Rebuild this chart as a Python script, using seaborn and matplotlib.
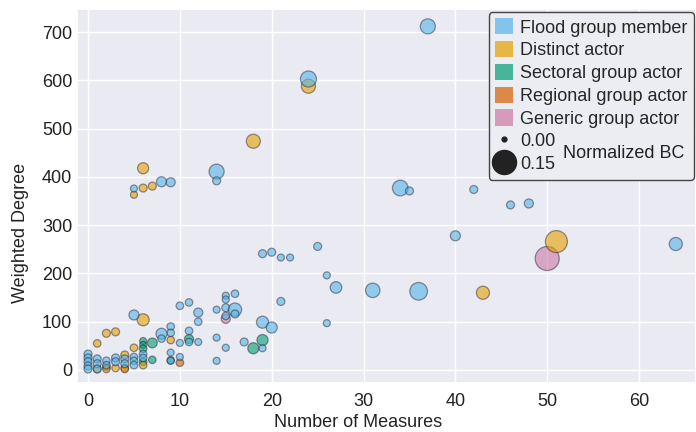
import numpy as np
import pandas as pd
import matplotlib.pyplot as plt
import seaborn as sns
from matplotlib.patches import Patch
from matplotlib.lines import Line2D

sns.set_theme(style='darkgrid')
plt.rcParams['font.family'] = ['Liberation Sans', 'DejaVu Sans']

# values
flood_x = [37, 24, 14, 14, 5, 8, 9, 34, 35, 42, 46, 48, 40, 64, 36, 31, 27, 25, 19, 20, 21, 22, 26, 26, 21,
           16, 15, 15, 15, 16, 14, 16, 15, 19, 20, 19, 17, 14, 15, 12, 12, 12, 14, 10, 11, 11, 11, 10, 9, 9,
           9, 10, 9, 8, 8, 5,
           0, 0, 0, 0, 0, 1, 1, 1, 2, 2, 3, 3, 4, 4, 5, 5, 5, 6, 6]
flood_y = [712, 603, 411, 392, 376, 390, 389, 377, 371, 374, 342, 345, 278, 261, 163, 165, 171, 256, 241, 244, 233, 233, 196, 97, 142,
           158, 154, 146, 129, 125, 125, 116, 112, 99, 88, 45, 58, 67, 46, 119, 100, 58, 19, 133, 140, 81, 58, 56, 90, 77,
           36, 27, 19, 75, 65, 114,
           33, 25, 17, 8, 2, 23, 13, 2, 19, 10, 25, 17, 23, 13, 27, 19, 10, 33, 25]
flood_bc = [0.055, 0.063, 0.055, 0.011, 0.007, 0.021, 0.016, 0.06, 0.011, 0.011, 0.011, 0.016, 0.021, 0.04, 0.078, 0.05, 0.03, 0.011, 0.011, 0.011, 0.007, 0.007, 0.007, 0.007, 0.011,
            0.009, 0.007, 0.007, 0.011, 0.042, 0.007, 0.011, 0.009, 0.033, 0.027, 0.007, 0.011, 0.007, 0.007, 0.016, 0.009, 0.007, 0.007, 0.009, 0.009, 0.009, 0.009, 0.007, 0.009, 0.009,
            0.007, 0.007, 0.007, 0.027, 0.009, 0.021,
            0.011, 0.011, 0.011, 0.011, 0.011, 0.011, 0.011, 0.011, 0.009, 0.009, 0.011, 0.011, 0.011, 0.011, 0.009, 0.009, 0.009, 0.009, 0.009]

distinct_x = [24, 18, 6, 5, 6, 7, 51, 43, 6, 2, 3, 1, 9, 1, 2, 3, 4, 4, 5, 6]
distinct_y = [588, 474, 418, 363, 377, 381, 266, 160, 104, 76, 79, 55, 62, 2, 2, 4, 2, 31, 46, 10]
distinct_bc = [0.047, 0.047, 0.027, 0.007, 0.011, 0.011, 0.124, 0.04, 0.033, 0.011, 0.011, 0.009, 0.009,
               0.009, 0.009, 0.009, 0.009, 0.011, 0.009, 0.009]

sectoral_x = [19, 18, 7, 7, 6, 6, 6, 6, 11, 9]
sectoral_y = [62, 45, 56, 21, 60, 52, 44, 17, 64, 20]
sectoral_bc = [0.027, 0.027, 0.02, 0.009, 0.007, 0.007, 0.009, 0.009, 0.016, 0.009]

regional_x = [10, 4, 2]
regional_y = [15, 4, 6]
regional_bc = [0.009, 0.009, 0.009]

generic_x = [50, 15]
generic_y = [231, 106]
generic_bc = [0.176, 0.016]

groups = ['Flood group member', 'Distinct actor', 'Sectoral group actor',
          'Regional group actor', 'Generic group actor']
colors = ['#56B4E9', '#E69F00', '#009E73', '#D55E00', '#CC79A7']

# draw order: pink first, blue last (on top)
df = pd.concat([
    pd.DataFrame({'x': generic_x, 'y': generic_y, 'bc': generic_bc, 'group': groups[4]}),
    pd.DataFrame({'x': regional_x, 'y': regional_y, 'bc': regional_bc, 'group': groups[3]}),
    pd.DataFrame({'x': sectoral_x, 'y': sectoral_y, 'bc': sectoral_bc, 'group': groups[2]}),
    pd.DataFrame({'x': distinct_x, 'y': distinct_y, 'bc': distinct_bc, 'group': groups[1]}),
    pd.DataFrame({'x': flood_x, 'y': flood_y, 'bc': flood_bc, 'group': groups[0]}),
], ignore_index=True)

fig = plt.figure(figsize=(6.96, 4.32), dpi=100)
ax = fig.add_axes([77 / 696, 1 - 383 / 432, 1 - 77 / 696, 374 / 432])

sns.scatterplot(data=df, x='x', y='y', hue='group', hue_order=groups, palette=colors,
                size='bc', sizes=(12, 300), size_norm=(0, 0.15), legend=False, ax=ax)

# translucent faces, faint dark edges
for coll in ax.collections:
    fc = coll.get_facecolors()
    fc[:, 3] = 0.6
    coll.set_facecolors(fc)
    coll.set_edgecolor((0.1, 0.1, 0.15, 0.45))
    coll.set_linewidth(0.9)

ax.set_xlim(-1.2, 66.2)
ax.set_ylim(-27, 748)
ax.set_xticks([0, 10, 20, 30, 40, 50, 60])
ax.set_yticks([0, 100, 200, 300, 400, 500, 600, 700])
ax.tick_params(labelsize=13, colors='#222222', length=0)
ax.tick_params(axis='x', pad=7)
ax.tick_params(axis='y', pad=3.5)
ax.set_xlabel('Number of Measures', fontsize=13, color='#222222')
ax.set_ylabel('Weighted Degree', fontsize=13, color='#222222')
ax.xaxis.set_label_coords(0.454, -0.083)
ax.yaxis.set_label_coords(-0.077, 0.40)

handles = [Patch(facecolor=c, alpha=0.7, edgecolor='none') for c in colors]
handles += [Line2D([], [], marker='o', linestyle='', color='#222222', markersize=np.sqrt(12)),
            Line2D([], [], marker='o', linestyle='', color='#222222', markersize=np.sqrt(300))]
labels = groups + ['0.00', '0.15']
leg = ax.legend(handles, labels, loc='upper right', bbox_to_anchor=(694 / 696, 1 - 12 / 432),
                bbox_transform=fig.transFigure, borderaxespad=0, fontsize=13,
                handlelength=1.0, handleheight=1.0, handletextpad=0.4, labelspacing=0.25,
                borderpad=0.35, frameon=True, fancybox=True, framealpha=1)
leg.get_frame().set_facecolor('#ECECF3')
leg.get_frame().set_edgecolor('#444444')
leg.get_frame().set_linewidth(1.0)

# "Normalized BC" sits to the right of the two size entries
fig.canvas.draw()
r = fig.canvas.get_renderer()
t0 = leg.get_texts()[5].get_window_extent(r)
t1 = leg.get_texts()[6].get_window_extent(r)
xr = t1.x1 + 8
ym = (t0.y0 + t1.y1) / 2
fx, fy = fig.transFigure.inverted().transform((xr, ym))
fig.text(fx, fy, 'Normalized BC', fontsize=13, color='#222222', ha='left', va='center')

fig.savefig('out.png', dpi=100)
